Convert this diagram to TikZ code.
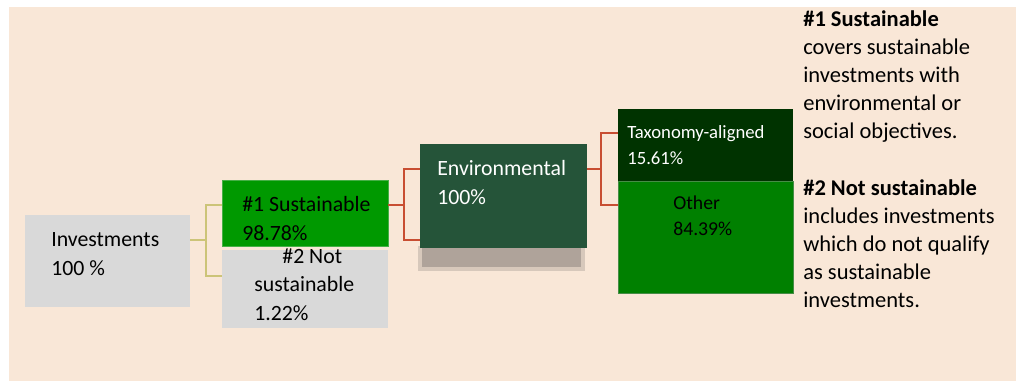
\documentclass[tikz,border=0pt]{standalone}
\usepackage{fontspec}
\setmainfont{Carlito}
\usetikzlibrary{fit,calc}

\definecolor{peach}{RGB}{249,231,215}
\definecolor{boxgrey}{RGB}{217,217,217}
\definecolor{susgreen}{RGB}{0,153,0}
\definecolor{susedge}{RGB}{70,175,70}
\definecolor{envgreen}{RGB}{37,84,57}
\definecolor{taxgreen}{RGB}{0,51,0}
\definecolor{othgreen}{RGB}{0,128,0}
\definecolor{othedge}{RGB}{70,140,70}
\definecolor{linkolive}{RGB}{204,196,120}
\definecolor{linkred}{RGB}{200,78,50}
\definecolor{shadowgrey}{RGB}{166,154,146}

\tikzset{
  box/.style={inner sep=0pt, outer sep=0pt},
  boxtext/.style={anchor=base west, align=left, inner sep=0pt},
  bigtext/.style={font=\fontsize{15.5}{20}\selectfont},
  oliveline/.style={draw=linkolive, line width=1pt},
  redline/.style={draw=linkred, line width=1pt},
}

\begin{document}
\begin{tikzpicture}[x=0.025cm, y=-0.025cm]

        \useasboundingbox (0,0) rectangle (1016,381);
        \fill[peach] (9,7) rectangle (1016,381);

        % shadow under the environmental box
        \fill[shadowgrey, opacity=.4] (418,246) rectangle (585,271);
        \fill[shadowgrey, opacity=.8] (422,247) rectangle (581,267);

        \begin{scope}[every node/.style={box}]
          \node[fill=boxgrey, fit={(25,215) (190,307)}] (inv) {};
          \node[fill=susgreen, draw=susedge, fit={(222,180) (388,246)}] (sus) {};
          \node[fill=boxgrey, fit={(222,250) (388,328)}] (notsus) {};
          \node[fill=envgreen, fit={(420,144) (587,248)}] (env) {};
          \node[fill=taxgreen, fit={(618,109) (793,181)}] (tax) {};
          \node[fill=othgreen, draw=othedge, fit={(618,181) (793,293)}] (oth) {};
        \end{scope}

        % texts sit on the baseline of their last line
        \begin{scope}[every node/.style={boxtext}]
          \node[bigtext] (invtext) at (51,275) {Investments\\100 \%};
          \node[bigtext] (sustext) at (242,240) {\#1 Sustainable\\98.78\%};
          \node[bigtext] (notsustext) at (254,320) {\hspace*{20pt}\#2 Not\\sustainable\\1.22\%};
          \node[bigtext, text=white] (envtext) at (437,204) {Environmental\\100\%};
          \node[text=white, font=\fontsize{13.3}{17.8}\selectfont] (taxtext) at (627,164) {Taxonomy-aligned\\15.61\%};
          \node[font=\fontsize{14}{17.8}\selectfont] (othtext) at (673,235) {Other\\84.39\%};
          \node[font=\fontsize{16}{19.8}\selectfont] (legend) at (803,307)
            {\textbf{\#1 Sustainable}\\covers sustainable\\investments with\\environmental or\\social objectives.\\[21pt]
             \textbf{\#2 Not sustainable}\\includes investments\\which do not qualify\\as sustainable\\investments.};
        \end{scope}

        \draw[oliveline] ($(inv.east)+(0,-21)$) -- ++(16,0) |- ($(sus.west)+(0,-8)$);
        \draw[oliveline] ($(inv.east)+(0,-21)$) -- ++(16,0) |- ($(notsus.west)+(0,-13)$);

        \draw[redline] ($(sus.east)+(0,-8)$) -- ++(16,0) |- ($(env.west)+(0,-27)$);
        \draw[redline] ($(sus.east)+(0,-8)$) -- ++(16,0) |- ($(env.west)+(0,44)$);

        \draw[redline] ($(env.east)+(0,-27)$) -- ++(14,0) |- ($(tax.west)+(0,-12)$);
        \draw[redline] ($(env.east)+(0,-27)$) -- ++(14,0) |- ($(oth.west)+(0,-32)$);

      \end{tikzpicture}
\end{document}
